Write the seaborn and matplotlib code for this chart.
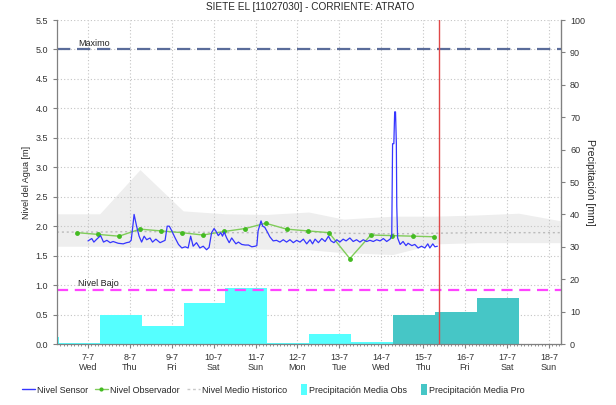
import matplotlib
matplotlib.use("Agg")
import matplotlib.pyplot as plt
import seaborn as sns
from matplotlib.lines import Line2D
from matplotlib.patches import Patch, Rectangle
from matplotlib.legend_handler import HandlerPatch
from matplotlib.ticker import FormatStrFormatter, MultipleLocator

# ======================================
# Datos (dias contados desde 7-7 00:00)
# ======================================

titulo = "SIETE EL [11027030] - CORRIENTE: ATRATO"

dias = ["7-7", "8-7", "9-7", "10-7", "11-7", "12-7", "13-7", "14-7", "15-7", "16-7", "17-7", "18-7"]
dias_semana = ["Wed", "Thu", "Fri", "Sat", "Sun", "Mon", "Tue", "Wed", "Thu", "Fri", "Sat", "Sun"]

sensor_dia = [
    0.00, 0.09, 0.14, 0.21, 0.30, 0.37, 0.45, 0.53, 0.60, 0.72, 0.84, 0.92, 0.99,
    1.03, 1.07, 1.10, 1.16, 1.22, 1.28, 1.34, 1.40, 1.48, 1.54, 1.62, 1.72, 1.84,
    1.89, 1.94, 2.00, 2.08, 2.16, 2.24, 2.32, 2.39, 2.45, 2.51, 2.59, 2.67, 2.75,
    2.83, 2.89, 2.95, 3.01, 3.05, 3.11, 3.17, 3.21, 3.25, 3.31, 3.37, 3.43, 3.47,
    3.53, 3.59, 3.67, 3.75, 3.83, 3.91, 3.99, 4.03, 4.06, 4.13, 4.17, 4.22, 4.29,
    4.34, 4.42, 4.50, 4.58, 4.66, 4.74, 4.82, 4.90, 4.98, 5.06, 5.14, 5.22, 5.30,
    5.36, 5.42, 5.50, 5.58, 5.66, 5.74, 5.80, 5.87, 5.94, 6.01, 6.09, 6.16, 6.25,
    6.33, 6.41, 6.49, 6.57, 6.65, 6.73, 6.81, 6.89, 6.97, 7.05, 7.13, 7.21, 7.25,
    7.27, 7.30, 7.32, 7.34, 7.36, 7.37, 7.39, 7.45, 7.52, 7.59, 7.64, 7.73, 7.80,
    7.88, 7.96, 8.04, 8.11, 8.16, 8.23, 8.28, 8.34,
]
sensor_nivel = [
    1.75, 1.79, 1.73, 1.78, 1.84, 1.73, 1.76, 1.72, 1.74, 1.71, 1.70, 1.72, 1.73,
    1.76, 2.00, 2.20, 2.00, 1.83, 1.73, 1.83, 1.77, 1.80, 1.73, 1.78, 1.72, 1.76,
    2.00, 2.00, 1.92, 1.80, 1.69, 1.63, 1.65, 1.63, 1.83, 1.66, 1.72, 1.63, 1.66,
    1.60, 1.64, 1.89, 1.96, 1.92, 1.84, 1.89, 1.83, 1.90, 1.80, 1.72, 1.80, 1.76,
    1.70, 1.73, 1.69, 1.68, 1.68, 1.65, 1.66, 1.67, 1.92, 2.09, 2.00, 1.98, 1.89,
    1.82, 1.75, 1.76, 1.73, 1.77, 1.73, 1.77, 1.72, 1.76, 1.73, 1.78, 1.70, 1.77,
    1.70, 1.78, 1.72, 1.79, 1.74, 1.83, 1.75, 1.72, 1.77, 1.73, 1.78, 1.75, 1.80,
    1.74, 1.77, 1.73, 1.77, 1.74, 1.76, 1.74, 1.77, 1.75, 1.79, 1.74, 1.78, 1.83,
    3.40, 3.40, 3.94, 3.94, 3.40, 2.34, 1.80, 1.69, 1.74, 1.67, 1.71, 1.67, 1.69,
    1.63, 1.66, 1.63, 1.70, 1.63, 1.70, 1.65, 1.66,
]

obs_dia = [-0.26, 0.25, 0.74, 1.24, 1.74, 2.24, 2.74, 3.25, 3.75,
           4.24, 4.74, 5.24, 5.75, 6.25, 6.75, 7.26, 7.76, 8.27]
obs_nivel = [1.89, 1.86, 1.83, 1.95, 1.92, 1.89, 1.85, 1.91, 1.96,
             2.05, 1.95, 1.92, 1.89, 1.45, 1.85, 1.84, 1.83, 1.82]

hist_dia = [-0.74, 0.28, 1.24, 2.27, 3.27, 4.27, 5.27, 6.10, 7.28, 8.28, 9.28, 10.28, 11.29]
hist_max = [2.21, 2.21, 2.96, 2.26, 2.21, 2.20, 2.24, 2.12, 2.17, 2.17, 2.19, 2.22, 2.09]
hist_min = [1.66, 1.66, 1.64, 1.63, 1.62, 1.61, 1.60, 1.55, 1.52, 1.70, 1.72, 1.72, 1.72]
hist_medio = [1.90, 1.90, 1.91, 1.90, 1.89, 1.89, 1.90, 1.88, 1.87, 1.88, 1.89, 1.89, 1.89]

precip_obs_dia = [-1.70, -0.70, 0.28, 1.28, 2.28, 3.28, 4.28, 5.28, 6.28]
precip_obs_mm = [2.2, 0.3, 8.8, 5.7, 12.7, 17.2, 0.3, 3.2, 0.6]
precip_pro_dia = [7.28, 8.28, 9.28]
precip_pro_mm = [8.9, 9.9, 14.2]

nivel_maximo = 5.0
nivel_bajo = 0.92
ahora = 8.38

# escala: 0-5.5 m a la izquierda equivale a 0-100 mm a la derecha
M_MAX, MM_MAX = 5.5, 100.0


def m_a_mm(m):
    return m * MM_MAX / M_MAX


def mm_a_m(mm):
    return mm * M_MAX / MM_MAX


# cuadrito angosto para la leyenda de precipitacion
def parche_angosto(legend, orig_handle, xdescent, ydescent, width, height, fontsize):
    return Rectangle((-xdescent + width - 4.3, -ydescent - 1.0), 4.3, height + 2.0)


# ======================================
# Figura
# ======================================

sns.set_style("white")
plt.rcParams['font.family'] = ['Liberation Sans', 'DejaVu Sans']
plt.rcParams['font.size'] = 6.5

fig = plt.figure(figsize=(6.16, 4.05), dpi=100)
ax = fig.add_axes([57 / 616, 1 - 344 / 405, (561 - 57) / 616, (344 - 20) / 405])

# banda historica
ax.fill_between(hist_dia, hist_min, hist_max, color="#EEEEEE", lw=0, zorder=0.3)
ax.plot(hist_dia, hist_medio, color="#BBBBBB", lw=1, ls=(0, (1.5, 2)), zorder=0.6)

# precipitacion
ax.bar(precip_obs_dia, [mm_a_m(v) for v in precip_obs_mm], width=1.0, align='edge',
       color="#55FFFF", lw=0, zorder=1)
ax.bar(precip_pro_dia, [mm_a_m(v) for v in precip_pro_mm], width=1.0, align='edge',
       color="#46C6C6", lw=0, zorder=1)

# niveles de referencia
ax.axhline(nivel_maximo, color="#5A6C9A", lw=1.6, ls=(0, (6, 3)), zorder=2)
ax.axhline(nivel_bajo, color="#FF44FF", lw=1.6, ls=(0, (5, 3)), zorder=2)
ax.text(-0.24, nivel_maximo + 0.03, "Maximo", fontsize=6.5, va='bottom', ha='left', color="#222222")
ax.text(-0.24, nivel_bajo + 0.03, "Nivel Bajo", fontsize=6.5, va='bottom', ha='left', color="#222222")

# series de nivel
sns.lineplot(x=obs_dia, y=obs_nivel, ax=ax, color="#80CC5A", lw=1.0, marker='o',
             markersize=3.5, markerfacecolor="#44BB22", markeredgewidth=0,
             estimator=None, zorder=3)
sns.lineplot(x=sensor_dia, y=sensor_nivel, ax=ax, color="#3535FF", lw=0.9,
             estimator=None, zorder=4)

ax.axvline(ahora, color="#E04848", lw=1, zorder=5)

# ejes
ax.set_xlim(-0.74, 11.29)
ax.set_ylim(0, M_MAX)
ax.set_xticks(range(len(dias)))
ax.set_xticklabels([f"{d}\n{s}" for d, s in zip(dias, dias_semana)])
ax.xaxis.set_minor_locator(MultipleLocator(1 / 12))
ax.yaxis.set_major_locator(MultipleLocator(0.5))
ax.yaxis.set_major_formatter(FormatStrFormatter('%.1f'))
ax.set_ylabel("Nivel del Agua [m]", labelpad=3)
ax.set_xlabel("")

ax.set_axisbelow(True)
ax.grid(True, which='major', color="#C4C4C4", lw=0.8, ls=(0, (1, 2)))
ax.tick_params(axis='both', which='major', length=3, color="#808080", labelsize=6.5,
               labelcolor="#333333", direction='out', bottom=True, left=True)
ax.tick_params(axis='x', which='minor', length=1.5, color="#808080", bottom=True)

for lado in ['left', 'bottom', 'right']:
    ax.spines[lado].set_color("#808080")
    ax.spines[lado].set_linewidth(0.9)
ax.spines['top'].set_visible(False)

sec = ax.secondary_yaxis('right', functions=(m_a_mm, mm_a_m))
sec.set_yticks(range(0, 101, 10))
sec.tick_params(length=3, color="#808080", labelsize=6.5, labelcolor="#333333")
sec.spines['right'].set_color("#808080")
sec.set_ylabel("Precipitación [mm]", rotation=270, labelpad=7, fontsize=7.6)

fig.text(0.503, 0.982, titulo, ha='center', va='center', fontsize=7.2)

leyenda = [
    Line2D([0], [0], color="#3535FF", lw=1),
    Line2D([0], [0], color="#80CC5A", lw=1.0, marker='o', markersize=3,
           markerfacecolor="#44BB22", markeredgewidth=0),
    Line2D([0], [0], color="#C8C8C8", lw=1, ls=(0, (2, 2))),
    Patch(color="#55FFFF", lw=0),
    Patch(color="#46C6C6", lw=0),
]
fig.legend(leyenda, ["Nivel Sensor", "Nivel Observador", "Nivel Medio Historico",
                     "Precipitación Media Obs", "Precipitación Media Pro"],
           loc='center left', bbox_to_anchor=(0.022, 0.037), ncol=5, frameon=False,
           fontsize=6.5, handlelength=1.45, handleheight=1.1, columnspacing=0.75,
           handletextpad=0.25, handler_map={Patch: HandlerPatch(patch_func=parche_angosto)})

fig.savefig("out.png", dpi=100)
